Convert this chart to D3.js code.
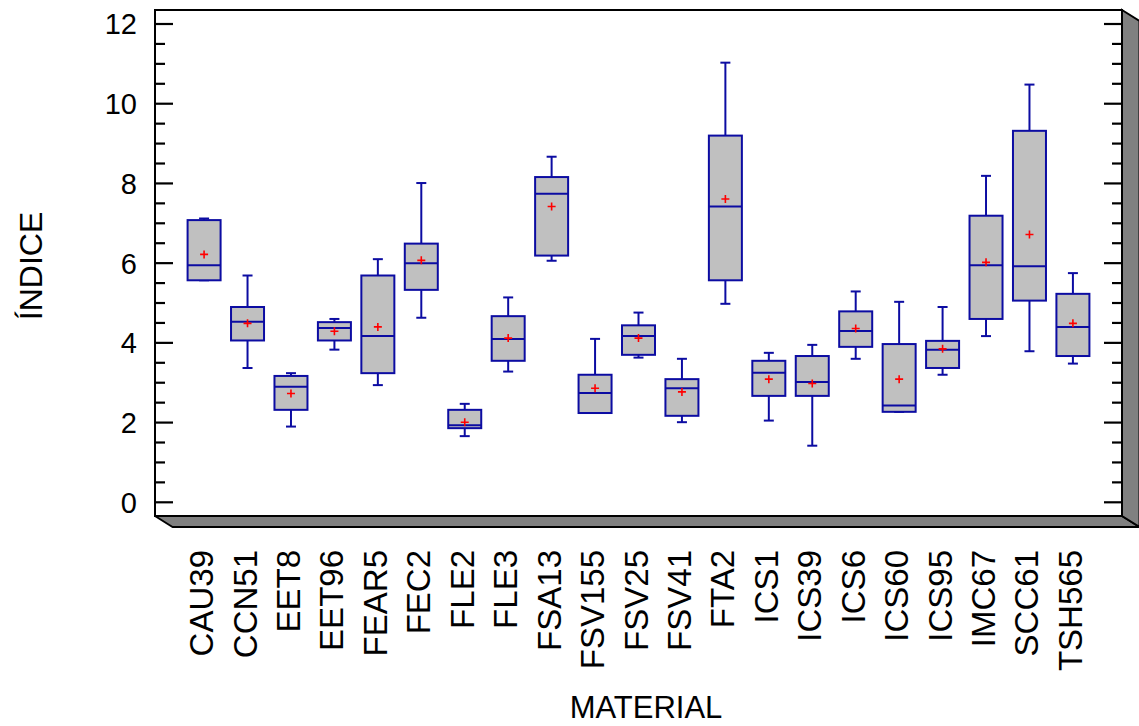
<!DOCTYPE html>
<html><head><meta charset="utf-8">
<script src="https://cdn.jsdelivr.net/npm/d3@7"></script>
<style>body{margin:0;background:#fff}svg{display:block}text{font-family:"Liberation Sans",Arial,sans-serif;fill:#000}</style>
</head><body><svg id="c" width="1139" height="726"></svg>
<script>
const categories = ["CAU39","CCN51","EET8","EET96","FEAR5","FEC2","FLE2","FLE3","FSA13","FSV155","FSV25","FSV41","FTA2","ICS1","ICS39","ICS6","ICS60","ICS95","IMC67","SCC61","TSH565"];
const whiskerLow  = [5.57,3.37,1.90,3.83,2.94,4.63,1.66,3.28,6.06,2.24,3.63,2.01,4.98,2.05,1.42,3.60,2.27,3.20,4.17,3.79,3.48];
const q1          = [5.57,4.06,2.32,4.06,3.24,5.33,1.86,3.55,6.19,2.24,3.70,2.17,5.57,2.67,2.67,3.90,2.27,3.37,4.60,5.06,3.67];
const median      = [5.95,4.53,2.90,4.37,4.17,6.00,1.93,4.10,7.74,2.74,4.17,2.86,7.42,3.25,3.02,4.30,2.43,3.83,5.95,5.92,4.40];
const q3          = [7.08,4.90,3.17,4.52,5.69,6.49,2.32,4.67,8.16,3.20,4.44,3.09,9.20,3.55,3.67,4.79,3.97,4.05,7.19,9.32,5.23];
const whiskerHigh = [7.12,5.69,3.24,4.60,6.10,8.01,2.47,5.14,8.67,4.10,4.76,3.60,11.03,3.75,3.95,5.29,5.03,4.90,8.19,10.48,5.75];
const mean        = [6.22,4.49,2.73,4.29,4.40,6.07,2.01,4.12,7.42,2.86,4.12,2.77,7.61,3.09,2.98,4.36,3.09,3.85,6.02,6.72,4.49];
const yTickLabels = [0,2,4,6,8,10,12];
const yTitle = "ÍNDICE", xTitle = "MATERIAL";

const svg = d3.select("#c");
const L=155, R=1122, T=10, B=516, DX=17.5, DY=11;
const y = d3.scaleLinear().domain([0,12]).range([502.3,24]);
const x = d3.scalePoint().domain(categories).range([L,R]).padding(1.13);
const BLUE="#0c0ca2", BW=33, CAP=10;

// 3D depth panels
svg.append("path").attr("d",`M${L},${B}L${R},${B}L${R+DX},${B+DY}L${L+DX},${B+DY}Z`)
  .attr("fill","#808080").attr("stroke","#000").attr("stroke-width",2).attr("stroke-linejoin","round");
svg.append("path").attr("d",`M${R},${T}L${R+DX},${T+DY}L${R+DX},${B+DY}L${R},${B}Z`)
  .attr("fill","#808080").attr("stroke","#000").attr("stroke-width",2);
// frame
svg.append("rect").attr("x",L).attr("y",T).attr("width",R-L).attr("height",B-T)
  .attr("fill","#fff").attr("stroke","#000").attr("stroke-width",2);

// ticks
const minor = d3.range(0,12.01,0.5);
minor.forEach(v=>{
  const major = yTickLabels.includes(v);
  const len = major?18:10;
  svg.append("line").attr("x1",L).attr("x2",L+len).attr("y1",y(v)).attr("y2",y(v)).attr("stroke","#000").attr("stroke-width",2.2);
  svg.append("line").attr("x1",R).attr("x2",R-len).attr("y1",y(v)).attr("y2",y(v)).attr("stroke","#000").attr("stroke-width",2.2);
});
svg.selectAll("text.yl").data(yTickLabels).join("text").attr("class","yl")
  .attr("x",137).attr("y",d=>y(d)).attr("dy","0.36em").attr("text-anchor","end")
  .attr("font-size",29).text(d=>d);

// boxes
const g = svg.append("g");
categories.forEach((c,i)=>{
  const cx = x(c);
  g.append("line").attr("x1",cx).attr("x2",cx).attr("y1",y(q3[i])).attr("y2",y(whiskerHigh[i])).attr("stroke",BLUE).attr("stroke-width",2);
  g.append("line").attr("x1",cx).attr("x2",cx).attr("y1",y(q1[i])).attr("y2",y(whiskerLow[i])).attr("stroke",BLUE).attr("stroke-width",2);
  g.append("line").attr("x1",cx-CAP/2).attr("x2",cx+CAP/2).attr("y1",y(whiskerHigh[i])).attr("y2",y(whiskerHigh[i])).attr("stroke",BLUE).attr("stroke-width",2);
  g.append("line").attr("x1",cx-CAP/2).attr("x2",cx+CAP/2).attr("y1",y(whiskerLow[i])).attr("y2",y(whiskerLow[i])).attr("stroke",BLUE).attr("stroke-width",2);
  g.append("rect").attr("x",cx-BW/2).attr("y",y(q3[i])).attr("width",BW).attr("height",y(q1[i])-y(q3[i]))
    .attr("fill","#c0c0c0").attr("stroke",BLUE).attr("stroke-width",2);
  g.append("line").attr("x1",cx-BW/2).attr("x2",cx+BW/2).attr("y1",y(median[i])).attr("y2",y(median[i])).attr("stroke",BLUE).attr("stroke-width",2);
  const my = y(mean[i]);
  g.append("path").attr("d",`M${cx-4},${my}H${cx+4}M${cx},${my-4}V${my+4}`).attr("stroke","#ff0000").attr("stroke-width",1.6).attr("fill","none");
});

// x labels
svg.selectAll("text.xl").data(categories).join("text").attr("class","xl")
  .attr("transform",d=>`translate(${x(d)+9},550) rotate(-90)`)
  .attr("text-anchor","end").attr("font-size",33).text(d=>d);

svg.append("text").attr("x",646).attr("y",718).attr("text-anchor","middle").attr("font-size",31).text(xTitle);
svg.append("text").attr("transform","translate(42,266) rotate(-90)").attr("text-anchor","middle").attr("font-size",32).text(yTitle);
</script></body></html>
